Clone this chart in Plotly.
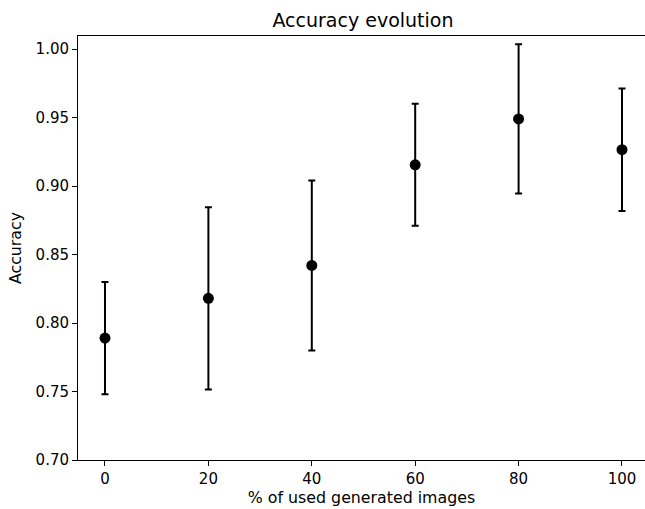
import plotly.graph_objects as go

pct = [0, 20, 40, 60, 80, 100]
accuracy = [0.789, 0.818, 0.842, 0.9155, 0.949, 0.9265]
error = [0.041, 0.0665, 0.062, 0.0445, 0.0545, 0.0447]
ytick_vals = [0.70, 0.75, 0.80, 0.85, 0.90, 0.95, 1.00]
xtick_vals = [0, 20, 40, 60, 80, 100]

fig = go.Figure()
fig.add_trace(go.Scatter(
    x=pct, y=accuracy, mode="markers",
    marker=dict(color="black", size=11, symbol="circle"),
    error_y=dict(type="data", array=error, visible=True, color="black",
                 thickness=2, width=3.5),
    showlegend=False,
))

font = "DejaVu Sans, sans-serif"
fig.update_layout(
    width=645, height=509,
    margin=dict(l=78, r=0, t=36, b=49),
    paper_bgcolor="white", plot_bgcolor="white",
    font=dict(family=font, size=15, color="black"),
    title=dict(text="Accuracy evolution", x=0.5026, xref="paper", xanchor="center",
               y=1 - 20 / 509, yref="container", yanchor="middle",
               font=dict(family=font, size=19, color="black")),
)
fig.update_xaxes(
    range=[-5.22, 104.45], tickvals=xtick_vals, ticks="outside", ticklen=5,
    tickwidth=1, tickcolor="black", showline=True, linecolor="black",
    linewidth=1, mirror=True, showgrid=False, zeroline=False,
    tickfont=dict(size=15),
    title=dict(text="% of used generated images", standoff=4,
               font=dict(family=font, size=15.8)),
)
fig.update_yaxes(
    range=[0.70, 1.0095], tickvals=ytick_vals, tickformat=".2f",
    ticks="outside", ticklen=5, tickwidth=1, tickcolor="black",
    showline=True, linecolor="black", linewidth=1, mirror=False,
    showgrid=False, zeroline=False, tickfont=dict(size=15),
    title=dict(text="Accuracy", standoff=10, font=dict(family=font, size=15.8)),
)

fig.write_html("out.html", config={"displayModeBar": False},
               post_script="document.body.style.margin='0';document.body.style.padding='0';")
